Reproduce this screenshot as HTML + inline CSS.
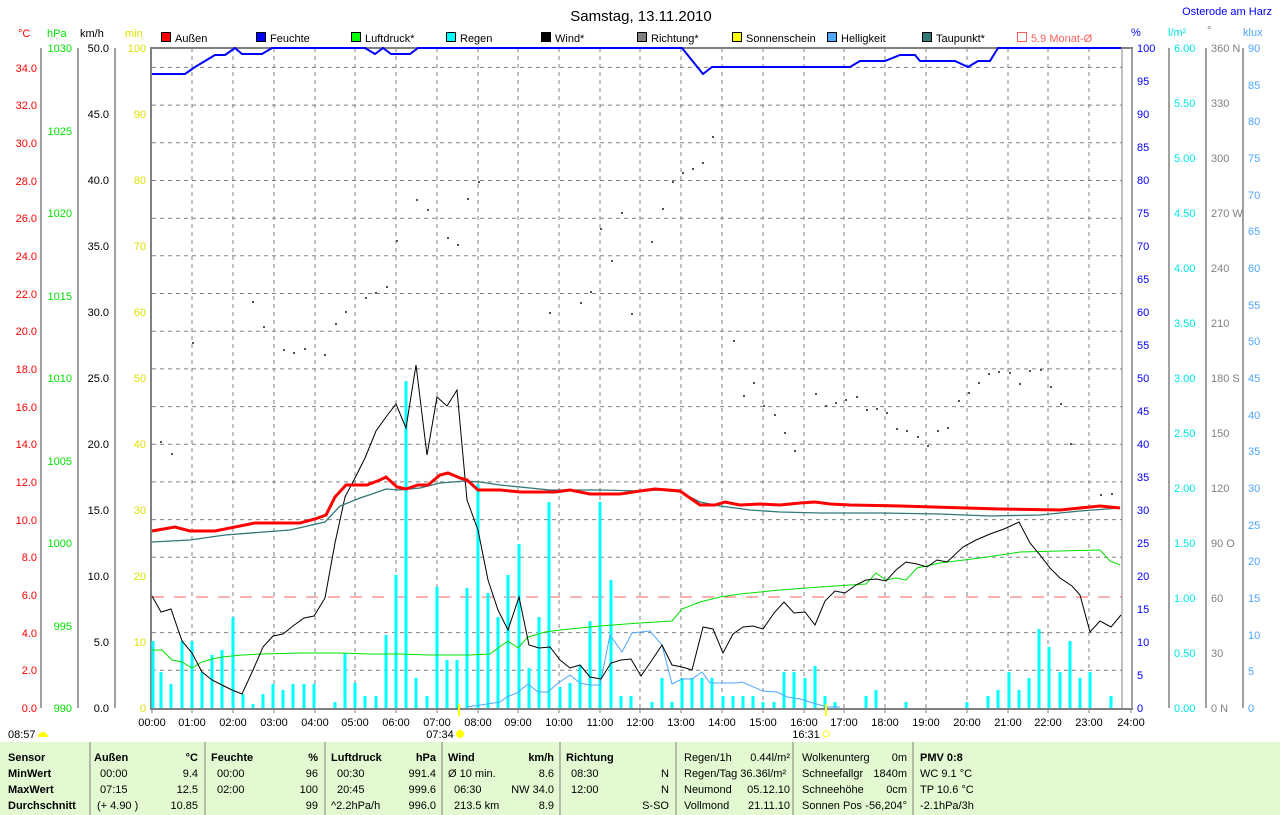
<!DOCTYPE html>
<html><head><meta charset="utf-8"><style>
body{margin:0;background:#fff;width:1280px;height:815px;overflow:hidden;font-family:"Liberation Sans",sans-serif}
svg text{font-family:"Liberation Sans",sans-serif;font-size:11px}
</style></head><body>
<svg width="1280" height="815" style="position:absolute;left:0;top:0">
<g stroke="#808080" stroke-dasharray="4,4" stroke-width="1">
<line x1="192" y1="48" x2="192" y2="708"/><line x1="233" y1="48" x2="233" y2="708"/><line x1="274" y1="48" x2="274" y2="708"/><line x1="315" y1="48" x2="315" y2="708"/><line x1="355" y1="48" x2="355" y2="708"/><line x1="396" y1="48" x2="396" y2="708"/><line x1="437" y1="48" x2="437" y2="708"/><line x1="478" y1="48" x2="478" y2="708"/><line x1="518" y1="48" x2="518" y2="708"/><line x1="559" y1="48" x2="559" y2="708"/><line x1="600" y1="48" x2="600" y2="708"/><line x1="640" y1="48" x2="640" y2="708"/><line x1="681" y1="48" x2="681" y2="708"/><line x1="722" y1="48" x2="722" y2="708"/><line x1="763" y1="48" x2="763" y2="708"/><line x1="804" y1="48" x2="804" y2="708"/><line x1="844" y1="48" x2="844" y2="708"/><line x1="885" y1="48" x2="885" y2="708"/><line x1="926" y1="48" x2="926" y2="708"/><line x1="967" y1="48" x2="967" y2="708"/><line x1="1008" y1="48" x2="1008" y2="708"/><line x1="1048" y1="48" x2="1048" y2="708"/><line x1="1089" y1="48" x2="1089" y2="708"/>
<line x1="152" y1="670.3" x2="1122" y2="670.3"/><line x1="152" y1="632.6" x2="1122" y2="632.6"/><line x1="152" y1="557.3" x2="1122" y2="557.3"/><line x1="152" y1="519.6" x2="1122" y2="519.6"/><line x1="152" y1="481.9" x2="1122" y2="481.9"/><line x1="152" y1="444.2" x2="1122" y2="444.2"/><line x1="152" y1="406.6" x2="1122" y2="406.6"/><line x1="152" y1="368.9" x2="1122" y2="368.9"/><line x1="152" y1="331.2" x2="1122" y2="331.2"/><line x1="152" y1="293.5" x2="1122" y2="293.5"/><line x1="152" y1="255.8" x2="1122" y2="255.8"/><line x1="152" y1="218.2" x2="1122" y2="218.2"/><line x1="152" y1="180.5" x2="1122" y2="180.5"/><line x1="152" y1="142.8" x2="1122" y2="142.8"/><line x1="152" y1="105.1" x2="1122" y2="105.1"/><line x1="152" y1="67.4" x2="1122" y2="67.4"/>
</g>
<line x1="152" y1="597" x2="1122" y2="597" stroke="#ff6060" stroke-dasharray="12,10" stroke-width="1"/>
<line x1="150" y1="48" x2="1133" y2="48" stroke="#808080" stroke-width="2"/>
<line x1="151" y1="47" x2="151" y2="710" stroke="#808080" stroke-width="2"/>
<line x1="150" y1="709" x2="1133" y2="709" stroke="#808080" stroke-width="2"/>
<line x1="1122" y1="48" x2="1122" y2="708" stroke="#808080" stroke-width="1"/>
<g stroke="#808080" stroke-width="1.5">
<line x1="41" y1="48" x2="41" y2="708"/><line x1="78" y1="48" x2="78" y2="708"/><line x1="115" y1="48" x2="115" y2="708"/>
<line x1="1132" y1="48" x2="1132" y2="708"/><line x1="1169" y1="48" x2="1169" y2="708"/><line x1="1206" y1="48" x2="1206" y2="708"/><line x1="1243" y1="48" x2="1243" y2="708"/>
</g>
<g stroke="#00ffff" stroke-width="3">
<line x1="153" y1="708" x2="153" y2="641"/><line x1="161" y1="708" x2="161" y2="672"/><line x1="171" y1="708" x2="171" y2="684"/><line x1="182" y1="708" x2="182" y2="641"/><line x1="192" y1="708" x2="192" y2="641"/><line x1="202" y1="708" x2="202" y2="672"/><line x1="212" y1="708" x2="212" y2="655"/><line x1="222" y1="708" x2="222" y2="650"/><line x1="233" y1="708" x2="233" y2="617"/><line x1="243" y1="708" x2="243" y2="694"/><line x1="253" y1="708" x2="253" y2="704"/><line x1="263" y1="708" x2="263" y2="694"/><line x1="273" y1="708" x2="273" y2="684"/><line x1="283" y1="708" x2="283" y2="690"/><line x1="293" y1="708" x2="293" y2="684"/><line x1="304" y1="708" x2="304" y2="684"/><line x1="314" y1="708" x2="314" y2="684"/>
<line x1="335" y1="708" x2="335" y2="702"/><line x1="345" y1="708" x2="345" y2="653"/><line x1="355" y1="708" x2="355" y2="683"/><line x1="365" y1="708" x2="365" y2="696"/><line x1="376" y1="708" x2="376" y2="696"/><line x1="386" y1="708" x2="386" y2="635"/><line x1="396" y1="708" x2="396" y2="575"/><line x1="406" y1="708" x2="406" y2="381"/><line x1="416" y1="708" x2="416" y2="678"/><line x1="427" y1="708" x2="427" y2="696"/><line x1="437" y1="708" x2="437" y2="587"/><line x1="447" y1="708" x2="447" y2="660"/><line x1="457" y1="708" x2="457" y2="660"/><line x1="467" y1="708" x2="467" y2="588"/><line x1="478" y1="708" x2="478" y2="484"/><line x1="488" y1="708" x2="488" y2="593"/><line x1="498" y1="708" x2="498" y2="617"/><line x1="508" y1="708" x2="508" y2="575"/><line x1="519" y1="708" x2="519" y2="544"/><line x1="529" y1="708" x2="529" y2="668"/><line x1="539" y1="708" x2="539" y2="617"/><line x1="549" y1="708" x2="549" y2="502"/><line x1="560" y1="708" x2="560" y2="687"/><line x1="570" y1="708" x2="570" y2="683"/><line x1="580" y1="708" x2="580" y2="665"/><line x1="590" y1="708" x2="590" y2="621"/><line x1="600" y1="708" x2="600" y2="502"/><line x1="611" y1="708" x2="611" y2="580"/><line x1="621" y1="708" x2="621" y2="696"/><line x1="631" y1="708" x2="631" y2="696"/><line x1="652" y1="708" x2="652" y2="702"/><line x1="662" y1="708" x2="662" y2="678"/><line x1="672" y1="708" x2="672" y2="702"/><line x1="682" y1="708" x2="682" y2="678"/><line x1="692" y1="708" x2="692" y2="678"/><line x1="702" y1="708" x2="702" y2="678"/><line x1="712" y1="708" x2="712" y2="678"/>
<line x1="723" y1="708" x2="723" y2="696"/><line x1="733" y1="708" x2="733" y2="696"/><line x1="743" y1="708" x2="743" y2="696"/><line x1="753" y1="708" x2="753" y2="696"/><line x1="763" y1="708" x2="763" y2="702"/><line x1="774" y1="708" x2="774" y2="702"/><line x1="784" y1="708" x2="784" y2="672"/><line x1="794" y1="708" x2="794" y2="672"/><line x1="805" y1="708" x2="805" y2="678"/><line x1="815" y1="708" x2="815" y2="666"/><line x1="825" y1="708" x2="825" y2="696"/><line x1="835" y1="708" x2="835" y2="702"/><line x1="866" y1="708" x2="866" y2="696"/><line x1="876" y1="708" x2="876" y2="690"/><line x1="906" y1="708" x2="906" y2="702"/><line x1="967" y1="708" x2="967" y2="702"/><line x1="988" y1="708" x2="988" y2="696"/><line x1="998" y1="708" x2="998" y2="690"/><line x1="1009" y1="708" x2="1009" y2="672"/><line x1="1019" y1="708" x2="1019" y2="690"/><line x1="1029" y1="708" x2="1029" y2="678"/><line x1="1039" y1="708" x2="1039" y2="629"/><line x1="1049" y1="708" x2="1049" y2="647"/><line x1="1060" y1="708" x2="1060" y2="672"/><line x1="1070" y1="708" x2="1070" y2="641"/><line x1="1080" y1="708" x2="1080" y2="678"/><line x1="1090" y1="708" x2="1090" y2="672"/><line x1="1111" y1="708" x2="1111" y2="696"/>
</g>
<g fill="#555">
<rect x="160" y="441" width="2" height="2"/><rect x="171" y="453" width="2" height="2"/><rect x="192" y="342" width="2" height="2"/><rect x="252" y="301" width="2" height="2"/><rect x="263" y="326" width="2" height="2"/><rect x="283" y="349" width="2" height="2"/><rect x="293" y="352" width="2" height="2"/><rect x="304" y="348" width="2" height="2"/><rect x="324" y="354" width="2" height="2"/><rect x="335" y="323" width="2" height="2"/><rect x="345" y="311" width="2" height="2"/><rect x="365" y="297" width="2" height="2"/><rect x="375" y="292" width="2" height="2"/><rect x="386" y="286" width="2" height="2"/><rect x="396" y="240" width="2" height="2"/><rect x="416" y="199" width="2" height="2"/><rect x="427" y="209" width="2" height="2"/><rect x="447" y="237" width="2" height="2"/><rect x="457" y="244" width="2" height="2"/><rect x="467" y="198" width="2" height="2"/><rect x="478" y="181" width="2" height="2"/><rect x="549" y="312" width="2" height="2"/><rect x="580" y="302" width="2" height="2"/><rect x="590" y="291" width="2" height="2"/><rect x="600" y="228" width="2" height="2"/><rect x="611" y="260" width="2" height="2"/><rect x="621" y="212" width="2" height="2"/><rect x="631" y="313" width="2" height="2"/><rect x="651" y="241" width="2" height="2"/><rect x="662" y="208" width="2" height="2"/><rect x="672" y="181" width="2" height="2"/><rect x="682" y="172" width="2" height="2"/><rect x="692" y="168" width="2" height="2"/><rect x="702" y="162" width="2" height="2"/><rect x="712" y="136" width="2" height="2"/><rect x="733" y="340" width="2" height="2"/><rect x="743" y="395" width="2" height="2"/><rect x="753" y="382" width="2" height="2"/><rect x="763" y="405" width="2" height="2"/><rect x="774" y="414" width="2" height="2"/><rect x="784" y="432" width="2" height="2"/><rect x="794" y="450" width="2" height="2"/><rect x="815" y="393" width="2" height="2"/><rect x="825" y="405" width="2" height="2"/><rect x="835" y="402" width="2" height="2"/><rect x="845" y="399" width="2" height="2"/><rect x="856" y="396" width="2" height="2"/><rect x="866" y="409" width="2" height="2"/><rect x="876" y="408" width="2" height="2"/><rect x="886" y="412" width="2" height="2"/><rect x="896" y="428" width="2" height="2"/><rect x="906" y="430" width="2" height="2"/><rect x="917" y="436" width="2" height="2"/><rect x="927" y="445" width="2" height="2"/><rect x="937" y="430" width="2" height="2"/><rect x="947" y="427" width="2" height="2"/><rect x="958" y="400" width="2" height="2"/><rect x="968" y="392" width="2" height="2"/><rect x="978" y="382" width="2" height="2"/><rect x="988" y="373" width="2" height="2"/><rect x="998" y="371" width="2" height="2"/><rect x="1009" y="372" width="2" height="2"/><rect x="1019" y="383" width="2" height="2"/><rect x="1029" y="370" width="2" height="2"/><rect x="1040" y="369" width="2" height="2"/><rect x="1050" y="386" width="2" height="2"/><rect x="1060" y="403" width="2" height="2"/><rect x="1070" y="443" width="2" height="2"/><rect x="1100" y="494" width="2" height="2"/><rect x="1111" y="493" width="2" height="2"/>
</g>
<polyline fill="none" stroke="#4da6ff" stroke-width="1" points="467,707 487,704 500,702 507,697 517,693 528,684 538,692 548,692 557,684 570,675 580,683 590,685 600,685 610,635 622,652 632,633 650,631 662,645 672,684 682,679 692,679 702,672 710,683 737,683 742,682 763,691 777,692 787,697 800,699 813,703 827,707 840,707"/>
<polyline fill="none" stroke="#00e000" stroke-width="1" points="152,650 162,650 172,660 182,662 192,668 202,662 212,659 222,657 242,655 262,654 300,653 340,653 370,654 400,654 430,655 470,655 490,654 498,648 508,641 518,648 528,637 545,632 560,630 600,626 640,623 672,621 682,609 700,602 720,597 740,594 780,590 820,587 850,585 866,584 876,573 886,580 896,578 906,580 917,568 940,563 980,558 1020,552 1060,551 1100,550 1110,561 1120,565"/>
<polyline fill="none" stroke="#000" stroke-width="1" points="152,596 161,612 171,609 182,641 192,653 202,672 212,680 222,685 232,690 242,694 253,670 263,647 273,636 283,634 293,626 304,618 314,616 325,598 335,543 345,497 355,478 365,458 376,431 386,417 396,404 406,428 416,365 427,455 437,397 447,406 457,390 467,500 478,530 488,580 498,610 508,630 519,597 529,645 539,648 550,647 560,660 570,668 580,665 590,677 601,679 611,663 621,660 631,659 641,676 652,660 662,645 672,665 682,667 692,670 703,627 713,629 723,653 733,634 743,627 753,626 763,629 774,613 784,602 794,613 805,612 815,625 825,601 835,591 845,593 856,585 866,580 876,579 886,581 896,570 906,562 917,564 927,567 937,560 947,562 963,547 976,540 990,534 1004,529 1019,522 1030,543 1040,555 1050,568 1060,578 1072,586 1080,595 1090,632 1100,621 1111,627 1121,615"/>
<polyline fill="none" stroke="#337777" stroke-width="1.3" points="152,542 190,540 225,535 290,530 325,522 340,506 360,498 375,493 386,489 400,490 420,488 440,483 465,481 480,482 500,485 550,490 600,490 640,491 660,490 680,492 700,502 720,506 750,510 780,512 820,513 880,513 940,514 990,516 1040,515 1080,511 1120,508"/>
<polyline fill="none" stroke="#ff0000" stroke-width="3" points="152,531 175,527 190,531 215,531 255,523 300,523 315,519 326,515 335,497 346,485 367,485 380,480 386,477 397,487 406,489 418,485 428,485 440,475 448,473 460,478 467,480 478,490 500,490 520,492 555,492 570,490 590,494 620,494 640,491 655,489 680,491 700,505 715,505 725,502 740,505 760,504 780,505 800,503 815,502 830,504 850,505 900,506 1000,509 1060,510 1080,508 1100,506 1120,508"/>
<polyline fill="none" stroke="#0000ff" stroke-width="2" points="152,74 185,74 195,67 215,55 225,55 235,48 242,54 262,54 272,48 365,48 375,54 383,48 391,54 410,54 418,48 682,48 703,74 712,67 850,67 860,61 885,61 900,55 915,55 920,61 955,61 968,67 978,61 990,61 998,48 1121,48"/>
<line x1="459" y1="704" x2="459" y2="716" stroke="#ffff00" stroke-width="2"/>
<line x1="826" y1="704" x2="826" y2="716" stroke="#ffff00" stroke-width="2"/>
<circle cx="460" cy="734" r="4" fill="#ffff00"/>
<circle cx="826" cy="734" r="3" fill="none" stroke="#ffff00"/>
<path d="M38,737 a5,5 0 0 1 10,0 z" fill="#ffff00"/>
<g stroke="#808080"><line x1="152" y1="708" x2="152" y2="713"/><line x1="192" y1="708" x2="192" y2="713"/><line x1="233" y1="708" x2="233" y2="713"/><line x1="274" y1="708" x2="274" y2="713"/><line x1="315" y1="708" x2="315" y2="713"/><line x1="355" y1="708" x2="355" y2="713"/><line x1="396" y1="708" x2="396" y2="713"/><line x1="437" y1="708" x2="437" y2="713"/><line x1="478" y1="708" x2="478" y2="713"/><line x1="518" y1="708" x2="518" y2="713"/><line x1="559" y1="708" x2="559" y2="713"/><line x1="600" y1="708" x2="600" y2="713"/><line x1="640" y1="708" x2="640" y2="713"/><line x1="681" y1="708" x2="681" y2="713"/><line x1="722" y1="708" x2="722" y2="713"/><line x1="763" y1="708" x2="763" y2="713"/><line x1="804" y1="708" x2="804" y2="713"/><line x1="844" y1="708" x2="844" y2="713"/><line x1="885" y1="708" x2="885" y2="713"/><line x1="926" y1="708" x2="926" y2="713"/><line x1="967" y1="708" x2="967" y2="713"/><line x1="1008" y1="708" x2="1008" y2="713"/><line x1="1048" y1="708" x2="1048" y2="713"/><line x1="1089" y1="708" x2="1089" y2="713"/><line x1="1131" y1="708" x2="1131" y2="713"/></g>
<g text-anchor="middle" fill="#000">
<text x="152" y="726">00:00</text><text x="192" y="726">01:00</text><text x="233" y="726">02:00</text><text x="274" y="726">03:00</text><text x="315" y="726">04:00</text><text x="355" y="726">05:00</text><text x="396" y="726">06:00</text><text x="437" y="726">07:00</text><text x="478" y="726">08:00</text><text x="518" y="726">09:00</text><text x="559" y="726">10:00</text><text x="600" y="726">11:00</text><text x="640" y="726">12:00</text><text x="681" y="726">13:00</text><text x="722" y="726">14:00</text><text x="763" y="726">15:00</text><text x="804" y="726">16:00</text><text x="844" y="726">17:00</text><text x="885" y="726">18:00</text><text x="926" y="726">19:00</text><text x="967" y="726">20:00</text><text x="1008" y="726">21:00</text><text x="1048" y="726">22:00</text><text x="1089" y="726">23:00</text><text x="1131" y="726">24:00</text>
<text x="440" y="738">07:34</text><text x="806" y="738">16:31</text>
</g>
<text x="8" y="738">08:57</text>
<g text-anchor="end" fill="#ff0000">
<text x="37" y="712">0.0</text><text x="37" y="674">2.0</text><text x="37" y="637">4.0</text><text x="37" y="599">6.0</text><text x="37" y="561">8.0</text><text x="37" y="524">10.0</text><text x="37" y="486">12.0</text><text x="37" y="448">14.0</text><text x="37" y="411">16.0</text><text x="37" y="373">18.0</text><text x="37" y="335">20.0</text><text x="37" y="298">22.0</text><text x="37" y="260">24.0</text><text x="37" y="222">26.0</text><text x="37" y="185">28.0</text><text x="37" y="147">30.0</text><text x="37" y="109">32.0</text><text x="37" y="72">34.0</text>
</g>
<g text-anchor="end" fill="#00e000">
<text x="72" y="712">990</text><text x="72" y="630">995</text><text x="72" y="547">1000</text><text x="72" y="465">1005</text><text x="72" y="382">1010</text><text x="72" y="300">1015</text><text x="72" y="217">1020</text><text x="72" y="135">1025</text><text x="72" y="52">1030</text>
</g>
<g text-anchor="end" fill="#000">
<text x="109" y="712">0.0</text><text x="109" y="646">5.0</text><text x="109" y="580">10.0</text><text x="109" y="514">15.0</text><text x="109" y="448">20.0</text><text x="109" y="382">25.0</text><text x="109" y="316">30.0</text><text x="109" y="250">35.0</text><text x="109" y="184">40.0</text><text x="109" y="118">45.0</text><text x="109" y="52">50.0</text>
</g>
<g text-anchor="end" fill="#e0e000">
<text x="146" y="712">0</text><text x="146" y="646">10</text><text x="146" y="580">20</text><text x="146" y="514">30</text><text x="146" y="448">40</text><text x="146" y="382">50</text><text x="146" y="316">60</text><text x="146" y="250">70</text><text x="146" y="184">80</text><text x="146" y="118">90</text><text x="146" y="52">100</text>
</g>
<g fill="#0000ff">
<text x="1137" y="712">0</text><text x="1137" y="679">5</text><text x="1137" y="646">10</text><text x="1137" y="613">15</text><text x="1137" y="580">20</text><text x="1137" y="547">25</text><text x="1137" y="514">30</text><text x="1137" y="481">35</text><text x="1137" y="448">40</text><text x="1137" y="415">45</text><text x="1137" y="382">50</text><text x="1137" y="349">55</text><text x="1137" y="316">60</text><text x="1137" y="283">65</text><text x="1137" y="250">70</text><text x="1137" y="217">75</text><text x="1137" y="184">80</text><text x="1137" y="151">85</text><text x="1137" y="118">90</text><text x="1137" y="85">95</text><text x="1137" y="52">100</text>
</g>
<g fill="#00e5e5">
<text x="1174" y="712">0.00</text><text x="1174" y="657">0.50</text><text x="1174" y="602">1.00</text><text x="1174" y="547">1.50</text><text x="1174" y="492">2.00</text><text x="1174" y="437">2.50</text><text x="1174" y="382">3.00</text><text x="1174" y="327">3.50</text><text x="1174" y="272">4.00</text><text x="1174" y="217">4.50</text><text x="1174" y="162">5.00</text><text x="1174" y="107">5.50</text><text x="1174" y="52">6.00</text>
</g>
<g fill="#808080">
<text x="1211" y="712">0 N</text><text x="1211" y="657">30</text><text x="1211" y="602">60</text><text x="1211" y="547">90 O</text><text x="1211" y="492">120</text><text x="1211" y="437">150</text><text x="1211" y="382">180 S</text><text x="1211" y="327">210</text><text x="1211" y="272">240</text><text x="1211" y="217">270 W</text><text x="1211" y="162">300</text><text x="1211" y="107">330</text><text x="1211" y="52">360 N</text>
</g>
<g fill="#4da6ff">
<text x="1248" y="712">0</text><text x="1248" y="675">5</text><text x="1248" y="639">10</text><text x="1248" y="602">15</text><text x="1248" y="565">20</text><text x="1248" y="529">25</text><text x="1248" y="492">30</text><text x="1248" y="455">35</text><text x="1248" y="419">40</text><text x="1248" y="382">45</text><text x="1248" y="345">50</text><text x="1248" y="309">55</text><text x="1248" y="272">60</text><text x="1248" y="235">65</text><text x="1248" y="199">70</text><text x="1248" y="162">75</text><text x="1248" y="125">80</text><text x="1248" y="89">85</text><text x="1248" y="52">90</text>
</g>
<text x="18" y="37" fill="#ff0000">°C</text><text x="47" y="37" fill="#00e000">hPa</text><text x="80" y="37" fill="#000">km/h</text><text x="125" y="37" fill="#e0e000">min</text>
<text x="1131" y="36" fill="#0000ff">%</text><text x="1168" y="36" fill="#00e5e5">l/m²</text><text x="1207" y="34" fill="#808080">°</text><text x="1243" y="36" fill="#4da6ff">klux</text>
<text x="641" y="21" text-anchor="middle" style="font-size:15px">Samstag, 13.11.2010</text>
<text x="1272" y="15" text-anchor="end" fill="#0000ff">Osterode am Harz</text>
<g stroke="#000" stroke-width="1">
<rect x="161.5" y="32.5" width="9" height="9" fill="#ff0000"/><rect x="256.5" y="32.5" width="9" height="9" fill="#0000ff"/><rect x="351.5" y="32.5" width="9" height="9" fill="#00ff00"/><rect x="446.5" y="32.5" width="9" height="9" fill="#00ffff"/><rect x="541.5" y="32.5" width="9" height="9" fill="#000"/><rect x="637.5" y="32.5" width="9" height="9" fill="#808080"/><rect x="732.5" y="32.5" width="9" height="9" fill="#ffff00"/><rect x="827.5" y="32.5" width="9" height="9" fill="#4da6ff"/><rect x="922.5" y="32.5" width="9" height="9" fill="#337777"/>
</g>
<rect x="1017.5" y="32.5" width="9" height="9" fill="none" stroke="#ff6060"/>
<text x="175" y="42">Außen</text><text x="270" y="42">Feuchte</text><text x="365" y="42">Luftdruck*</text><text x="460" y="42">Regen</text><text x="555" y="42">Wind*</text><text x="651" y="42">Richtung*</text><text x="746" y="42">Sonnenschein</text><text x="841" y="42">Helligkeit</text><text x="936" y="42">Taupunkt*</text><text x="1031" y="42" fill="#ff6060">5.9 Monat-Ø</text>
<rect x="0" y="742" width="1280" height="73" fill="#e3f9d2"/>
<g stroke="#808080"><line x1="90" y1="742" x2="90" y2="815"/><line x1="205" y1="742" x2="205" y2="815"/><line x1="325" y1="742" x2="325" y2="815"/><line x1="442" y1="742" x2="442" y2="815"/><line x1="560" y1="742" x2="560" y2="815"/><line x1="676" y1="742" x2="676" y2="815"/><line x1="793" y1="742" x2="793" y2="815"/><line x1="913" y1="742" x2="913" y2="815"/></g>
<text x="8" y="761" style="font-weight:bold">Sensor</text><text x="8" y="777" style="font-weight:bold">MinWert</text><text x="8" y="793" style="font-weight:bold">MaxWert</text><text x="8" y="809" style="font-weight:bold">Durchschnitt</text>
<text x="94" y="761" style="font-weight:bold">Außen</text><text x="198" y="761" text-anchor="end" style="font-weight:bold">°C</text>
<text x="211" y="761" style="font-weight:bold">Feuchte</text><text x="318" y="761" text-anchor="end" style="font-weight:bold">%</text>
<text x="331" y="761" style="font-weight:bold">Luftdruck</text><text x="436" y="761" text-anchor="end" style="font-weight:bold">hPa</text>
<text x="448" y="761" style="font-weight:bold">Wind</text><text x="554" y="761" text-anchor="end" style="font-weight:bold">km/h</text>
<text x="566" y="761" style="font-weight:bold">Richtung</text>
<text x="920" y="761" style="font-weight:bold">PMV 0:8</text>
<text x="100" y="777">00:00</text><text x="198" y="777" text-anchor="end">9.4</text>
<text x="100" y="793">07:15</text><text x="198" y="793" text-anchor="end">12.5</text>
<text x="97" y="809">(+ 4.90 )</text><text x="198" y="809" text-anchor="end">10.85</text>
<text x="217" y="777">00:00</text><text x="318" y="777" text-anchor="end">96</text>
<text x="217" y="793">02:00</text><text x="318" y="793" text-anchor="end">100</text>
<text x="318" y="809" text-anchor="end">99</text>
<text x="337" y="777">00:30</text><text x="436" y="777" text-anchor="end">991.4</text>
<text x="337" y="793">20:45</text><text x="436" y="793" text-anchor="end">999.6</text>
<text x="331" y="809">^2.2hPa/h</text><text x="436" y="809" text-anchor="end">996.0</text>
<text x="448" y="777">Ø 10 min.</text><text x="554" y="777" text-anchor="end">8.6</text>
<text x="454" y="793">06:30</text><text x="554" y="793" text-anchor="end">NW 34.0</text>
<text x="454" y="809">213.5 km</text><text x="554" y="809" text-anchor="end">8.9</text>
<text x="571" y="777">08:30</text><text x="669" y="777" text-anchor="end">N</text>
<text x="571" y="793">12:00</text><text x="669" y="793" text-anchor="end">N</text>
<text x="669" y="809" text-anchor="end">S-SO</text>
<text x="684" y="761">Regen/1h</text><text x="790" y="761" text-anchor="end">0.44l/m²</text>
<text x="684" y="777">Regen/Tag 36.36l/m²</text>
<text x="684" y="793">Neumond</text><text x="790" y="793" text-anchor="end">05.12.10</text>
<text x="684" y="809">Vollmond</text><text x="790" y="809" text-anchor="end">21.11.10</text>
<text x="802" y="761">Wolkenunterg</text><text x="907" y="761" text-anchor="end">0m</text>
<text x="802" y="777">Schneefallgr</text><text x="907" y="777" text-anchor="end">1840m</text>
<text x="802" y="793">Schneehöhe</text><text x="907" y="793" text-anchor="end">0cm</text>
<text x="802" y="809">Sonnen Pos</text><text x="907" y="809" text-anchor="end">-56,204°</text>
<text x="920" y="777">WC 9.1 °C</text><text x="920" y="793">TP 10.6 °C</text><text x="920" y="809">-2.1hPa/3h</text>
</svg>
</body></html>
